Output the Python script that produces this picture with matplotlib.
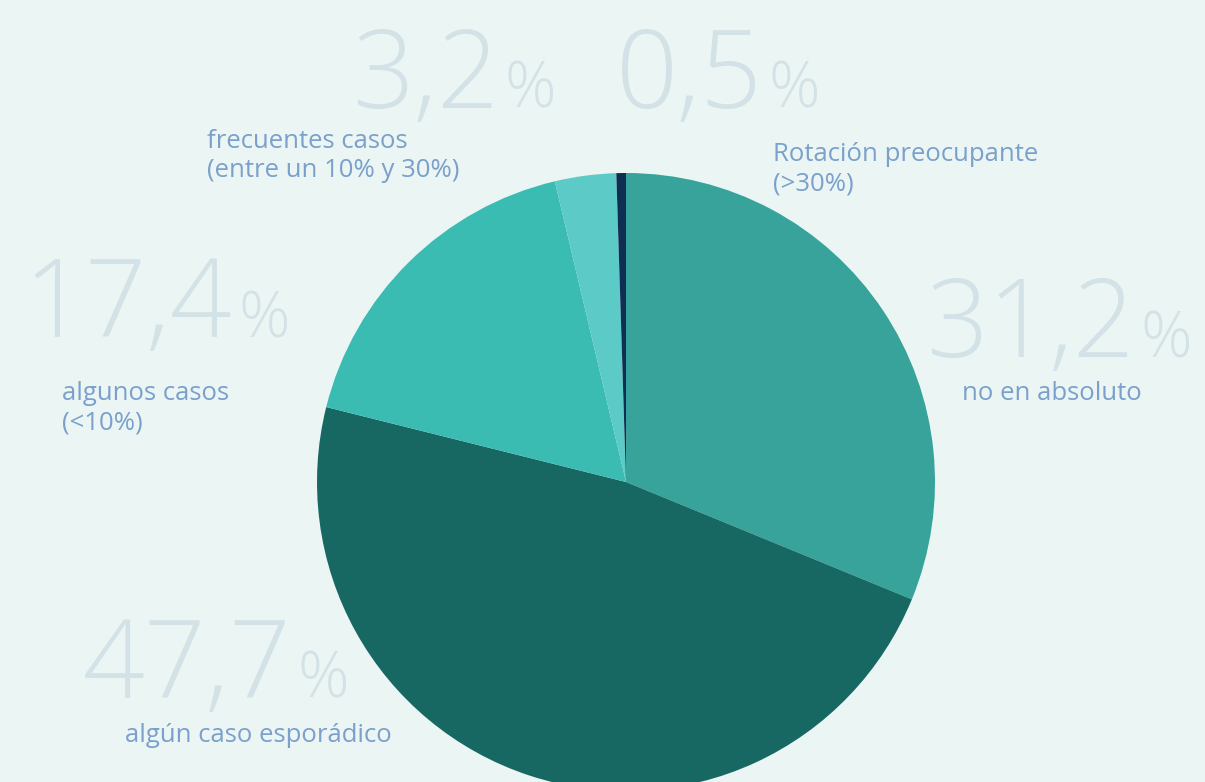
import matplotlib.pyplot as plt

# shares of each answer, clockwise from the top
labels = ['no en absoluto', 'algún caso esporádico', 'algunos casos\n(<10%)',
          'frecuentes casos\n(entre un 10% y 30%)', 'Rotación preocupante\n(>30%)']
values = [31.2, 47.7, 17.4, 3.2, 0.5]
colors = ['#37a39a', '#176863', '#3bbcb2', '#5ccac6', '#0e2f52']

# where the big number and its caption go (pixels from top-left)
num_pos = [(926, 357), (83, 698), (24, 337), (352, 108), (616, 108)]
cap_pos = [(962, 393), (125, 736), (62, 408), (207, 156), (773, 169)]

BG = '#ebf5f4'
NUM_COLOR = '#d3e2e6'
CAP_COLOR = '#7aa0cb'
FONT = 'Open Sans'

W, H = 1205, 782
fig = plt.figure(figsize=(W / 100, H / 100), dpi=100, facecolor=BG)
ax = fig.add_axes([0, 0, 1, 1])

cx, cy, r = 626, H - 482, 309
ax.pie(values, colors=colors, startangle=90, counterclock=False,
       center=(cx, cy), radius=r, frame=True,
       wedgeprops=dict(linewidth=0))
ax.set_xlim(0, W)
ax.set_ylim(0, H)
ax.set_aspect('equal')
ax.axis('off')

fig.canvas.draw()
rend = fig.canvas.get_renderer()
inv = ax.transData.inverted()

for v, lab, (nx, ny), (lx, ly) in zip(values, labels, num_pos, cap_pos):
    num = ('%.1f' % v).replace('.', ',')
    t = ax.text(nx, H - ny, num, fontsize=78, family=FONT, fontweight='light',
                color=NUM_COLOR, ha='left', va='baseline')
    bb = t.get_window_extent(rend)
    x_end = inv.transform((bb.x1, bb.y0))[0]
    ax.text(x_end + 6, H - ny, '%', fontsize=46, family=FONT, fontweight='light',
            color=NUM_COLOR, ha='left', va='baseline')
    ax.text(lx, H - ly, lab, fontsize=18.5, family=FONT, color=CAP_COLOR,
            ha='left', va='center', linespacing=1.25)

fig.savefig('out.png', dpi=100, facecolor=BG)
